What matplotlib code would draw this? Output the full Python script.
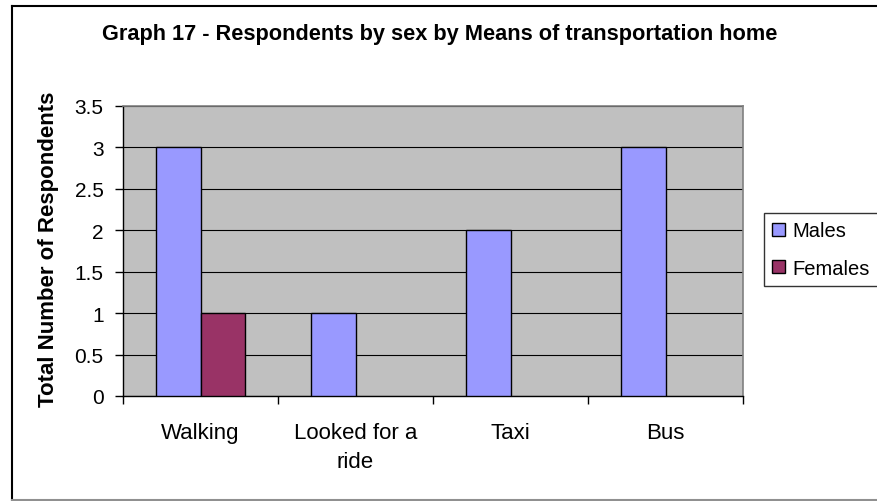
import matplotlib
matplotlib.use("Agg")
import matplotlib.pyplot as plt
import matplotlib.patches as mpatches
from matplotlib.lines import Line2D
import numpy as np

categories = ["Walking", "Looked for a\nride", "Taxi", "Bus"]
males = [3, 1, 2, 3]
females = [1, 0, 0, 0]
series_names = ["Males", "Females"]
ytick_values = [0, 0.5, 1, 1.5, 2, 2.5, 3, 3.5]
ytick_labels = ["0", "0.5", "1", "1.5", "2", "2.5", "3", "3.5"]
title = "Graph 17 - Respondents by sex by Means of transportation home"
ylabel = "Total Number of Respondents"

plt.rcParams['font.family'] = ['Liberation Sans', 'DejaVu Sans']

W, H = 877, 502
fig = plt.figure(figsize=(W / 100, H / 100), dpi=100, facecolor="white")
ax = fig.add_axes([123 / W, 1 - 397 / H, (743 - 123) / W, (397 - 107) / H])
ax.set_facecolor("#C0C0C0")

x = np.arange(len(categories))
bw = 1 / 3.5
c_m = "#9999FF"
c_f = "#993366"
bars_m = ax.bar(x - bw / 2, males, bw, color=c_m, edgecolor="black", linewidth=1.0, zorder=3, label=series_names[0])
bars_f = ax.bar(x + bw / 2, females, bw, color=c_f, edgecolor="black", linewidth=1.0, zorder=3, label=series_names[1])
for b in list(bars_m) + list(bars_f):
    if b.get_height() == 0:
        b.set_visible(False)

ax.set_xlim(-0.5, len(categories) - 0.5)
ax.set_ylim(0, 3.5)
ax.set_yticks(ytick_values)
ax.set_yticklabels(ytick_labels, fontsize=15)
ax.yaxis.grid(True, color="black", linewidth=0.8, zorder=1)
ax.set_axisbelow(True)

ax.set_xticks(np.arange(-0.5, len(categories), 1.0))
ax.set_xticklabels([])
ax.set_xticks(x, minor=True)
ax.set_xticklabels(categories, minor=True, fontsize=16, linespacing=1.45)
ax.tick_params(axis="x", which="major", length=6, width=1, direction="out", color="black")
ax.tick_params(axis="x", which="minor", length=0, pad=19)
ax.tick_params(axis="y", which="major", length=6, width=1, direction="out", color="black", pad=8)

for s in ["left", "bottom"]:
    ax.spines[s].set_color("black")
    ax.spines[s].set_linewidth(1)
for s in ["top", "right"]:
    ax.spines[s].set_color("#808080")
    ax.spines[s].set_linewidth(1.2)

fig.text(440 / W, 1 - 35 / H, title, ha="center", va="center", fontsize=15.7, fontweight="bold")
fig.text(49 / W, 1 - 249 / H, ylabel, ha="center", va="center", rotation=90, fontsize=16, fontweight="bold")

handles = [mpatches.Patch(facecolor=c_m, edgecolor="black", linewidth=1),
           mpatches.Patch(facecolor=c_f, edgecolor="black", linewidth=1)]
leg = fig.legend(handles, series_names, loc="upper left",
                 bbox_to_anchor=(764 / W, 1 - 214 / H), bbox_transform=fig.transFigure,
                 fontsize=14.5, frameon=True, fancybox=False, borderaxespad=0,
                 handlelength=0.6, handleheight=0.6, handletextpad=0.37,
                 borderpad=0.42, labelspacing=0.9)
leg.get_frame().set_edgecolor("black")
leg.get_frame().set_linewidth(1)
leg.get_frame().set_facecolor("white")

# outer chart border
fig.add_artist(Line2D([11.5 / W, 1], [1 - 6.5 / H, 1 - 6.5 / H], color="black", linewidth=1.5, transform=fig.transFigure))
fig.add_artist(Line2D([11.5 / W, 11.5 / W], [1 - 6.5 / H, 1.5 / H], color="black", linewidth=1.5, transform=fig.transFigure))
fig.add_artist(Line2D([11.5 / W, 1], [1.5 / H, 1.5 / H], color="#909090", linewidth=1.5, transform=fig.transFigure))

fig.savefig("out.png", dpi=100, facecolor="white")
